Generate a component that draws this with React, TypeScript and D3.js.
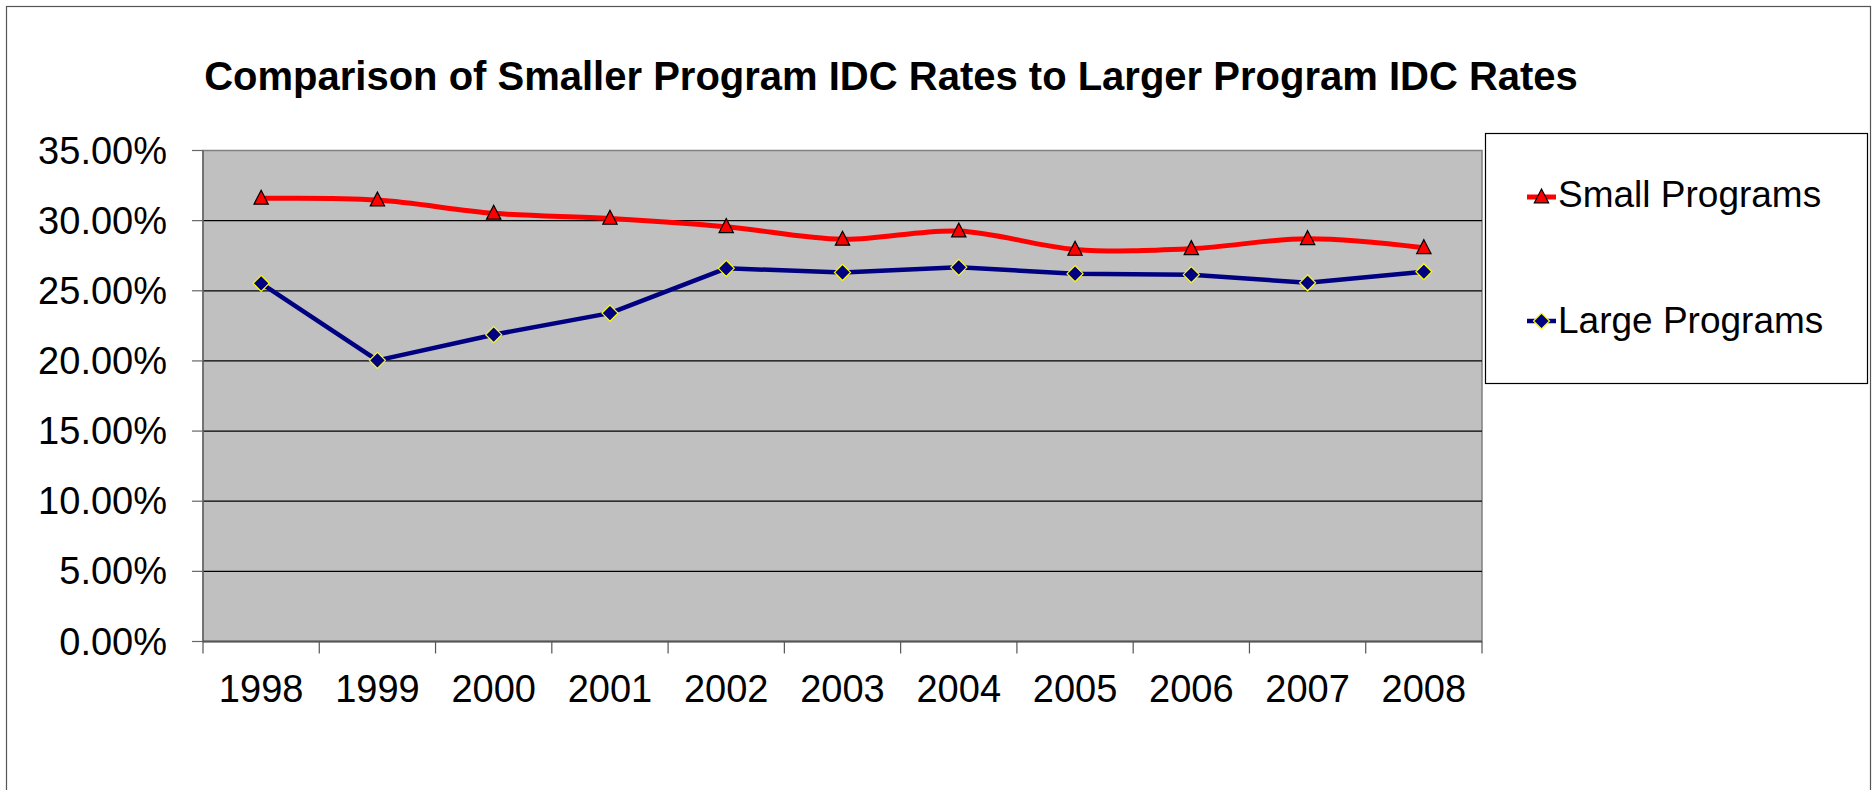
import React from 'react';
import * as d3 from 'd3';

const years = ['1998', '1999', '2000', '2001', '2002', '2003', '2004', '2005', '2006', '2007', '2008'];
const smallPrograms = [0.3159, 0.3147, 0.3052, 0.3016, 0.2957, 0.2867, 0.2926, 0.2795, 0.2800, 0.2871, 0.2807];
const largePrograms = [0.2553, 0.2004, 0.2187, 0.2341, 0.2660, 0.2631, 0.2667, 0.2622, 0.2615, 0.2557, 0.2636];
const yTicks = [0, 0.05, 0.1, 0.15, 0.2, 0.25, 0.3, 0.35];
const title = 'Comparison of Smaller Program IDC Rates to Larger Program IDC Rates';

const W = 1873;
const H = 790;
const plot = { left: 203, right: 1482, top: 150.5, bottom: 641.5 };
const font = 'Arial, "Liberation Sans", sans-serif';

const triangle = (cx: number, cy: number, s: number) =>
  `M${cx},${cy - s * 0.62}L${cx + s * 0.55},${cy + s * 0.45}L${cx - s * 0.55},${cy + s * 0.45}Z`;
const diamond = (cx: number, cy: number, s: number) =>
  `M${cx},${cy - s}L${cx + s},${cy}L${cx},${cy + s}L${cx - s},${cy}Z`;

export default function App() {
  const x = d3.scaleBand().domain(years).range([plot.left, plot.right]).paddingInner(0).paddingOuter(0);
  const y = d3.scaleLinear().domain([0, 0.35]).range([plot.bottom, plot.top]);
  const cx = (d: string) => (x(d) as number) + x.bandwidth() / 2;
  const fmt = d3.format('.2%');

  const smallLine = d3.line<number>()
    .x((_, i) => cx(years[i]))
    .y(d => y(d))
    .curve(d3.curveCatmullRom.alpha(0.5));
  const largeLine = d3.line<number>()
    .x((_, i) => cx(years[i]))
    .y(d => y(d));

  const tickXs = [...years.map(d => x(d) as number), plot.right];

  return (
    <div style={{ position: 'absolute', left: 0, top: 0 }}>
      <svg width={W} height={H} style={{ display: 'block', fontFamily: font }}>
        <rect x={0} y={0} width={W} height={H} fill="#fff" />
        <rect x={6.5} y={6.5} width={1864} height={H + 10} fill="none" stroke="#555" strokeWidth={1.2} />

        <text x={891} y={90} textAnchor="middle" fontSize={40} fontWeight="bold" fill="#000">{title}</text>

        {/* plot area */}
        <rect x={plot.left} y={plot.top} width={plot.right - plot.left} height={plot.bottom - plot.top}
          fill="#c0c0c0" stroke="#808080" strokeWidth={1.5} />
        {yTicks.filter(t => t > 0 && t < 0.35).map(t => (
          <line key={t} x1={plot.left} x2={plot.right} y1={y(t)} y2={y(t)} stroke="#000" strokeWidth={1.2} />
        ))}

        {/* y axis */}
        <line x1={plot.left} x2={plot.left} y1={plot.top} y2={plot.bottom} stroke="#666" strokeWidth={1.5} />
        {yTicks.map(t => (
          <g key={t}>
            <line x1={plot.left - 11} x2={plot.left} y1={y(t)} y2={y(t)} stroke="#666" strokeWidth={1.2} />
            <text x={167} y={y(t) + 13} textAnchor="end" fontSize={38} fill="#000">{fmt(t)}</text>
          </g>
        ))}

        {/* x axis */}
        <line x1={plot.left} x2={plot.right} y1={plot.bottom} y2={plot.bottom} stroke="#555" strokeWidth={2} />
        {tickXs.map((tx, i) => (
          <line key={i} x1={tx} x2={tx} y1={plot.bottom} y2={plot.bottom + 12} stroke="#555" strokeWidth={1.2} />
        ))}
        {years.map(d => (
          <text key={d} x={cx(d)} y={702} textAnchor="middle" fontSize={38} fill="#000">{d}</text>
        ))}

        {/* series */}
        <path d={largeLine(largePrograms) || ''} fill="none" stroke="#000080" strokeWidth={4.5} strokeLinejoin="round" />
        <path d={smallLine(smallPrograms) || ''} fill="none" stroke="#ff0000" strokeWidth={5} />
        {largePrograms.map((v, i) => (
          <path key={i} d={diamond(cx(years[i]), y(v), 8)} fill="#000080" stroke="#ffff00" strokeWidth={1.2} />
        ))}
        {smallPrograms.map((v, i) => (
          <path key={i} d={triangle(cx(years[i]), y(v), 13)} fill="#ff0000" stroke="#000" strokeWidth={1.2} />
        ))}

        {/* legend */}
        <rect x={1485.5} y={133.5} width={382} height={250} fill="#fff" stroke="#000" strokeWidth={1.2} />
        <line x1={1527} x2={1556} y1={197} y2={197} stroke="#ff0000" strokeWidth={5} />
        <path d={triangle(1541.5, 197, 13)} fill="#ff0000" stroke="#000" strokeWidth={1.2} />
        <text x={1558} y={207} fontSize={37} fill="#000">Small Programs</text>
        <line x1={1527} x2={1556} y1={321} y2={321} stroke="#000080" strokeWidth={4.5} />
        <path d={diamond(1541.5, 321, 8)} fill="#000080" stroke="#ffff00" strokeWidth={1.2} />
        <text x={1558} y={333} fontSize={37} fill="#000">Large Programs</text>
      </svg>
    </div>
  );
}
